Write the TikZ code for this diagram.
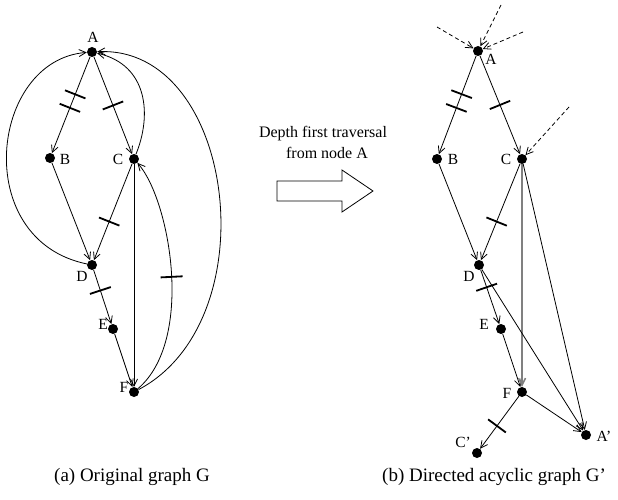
\documentclass[tikz,border=0pt]{standalone}
\usepackage{fontspec}
\setmainfont{Liberation Serif}
\usetikzlibrary{arrows.meta,decorations.markings}
\begin{document}
\begin{tikzpicture}[x=1pt,y=-1pt,
 dot/.style={circle,fill=black,inner sep=0pt,minimum size=10pt},
 lbl/.style={font=\fontsize{15.5}{18}\selectfont,inner sep=0pt},
 midtext/.style={font=\fontsize{16}{19}\selectfont,inner sep=0pt},
 captext/.style={font=\fontsize{19}{22}\selectfont,inner sep=0pt},
 edge/.style={line width=0.8pt,-{Straight Barb[length=7pt,width=7pt]}},
 dedge/.style={edge,dash pattern=on 4pt off 3pt},
 tk/.style={postaction={decorate,decoration={markings,mark=at position #1 with {\draw[line width=1.8pt,solid,-] (0,-11)--(0,11);}}}},
]
\fill[white] (0,0) rectangle (618,500);
\useasboundingbox (0,0) rectangle (618,500);

% ---------- left graph ----------
\node[dot] (A) at (92,52) {};
\node[dot] (B) at (50,158) {};
\node[dot] (C) at (134,159) {};
\node[dot] (D) at (92,265) {};
\node[dot] (E) at (113,329) {};
\node[dot] (F) at (134,392) {};
\node[lbl] (lA) at (93,37) {A};
\node[lbl] (lB) at (65,159) {B};
\node[lbl] (lC) at (118,159) {C};
\node[lbl] (lD) at (82,276) {D};
\node[lbl] (lE) at (103,324) {E};
\node[lbl] (lF) at (124,387) {F};

\draw[edge,tk=0.39,tk=0.53] (A) -- (B);
\draw[edge,tk=0.5] (A) -- (C);
\draw[edge] (B) -- (D);
\draw[edge,tk=0.6] (C) -- (D);
\draw[edge,tk=0.38] (D) -- (E);
\draw[edge] (E) -- (F);
\draw[edge] (C) -- (F);
\draw[edge] (D) .. controls (-30,240) and (-10,60) .. (A);
\draw[edge] (C) .. controls (152,115) and (148,65) .. (A);
\draw[edge] (F) .. controls (270,320) and (235,45) .. (A);
\draw[edge,tk=0.5] (F) .. controls (195,340) and (170,200) .. (C);

% ---------- middle ----------
\node[midtext] (t1) at (323,134) {Depth first traversal};
\node[midtext] (t2) at (327,153) {from node A};
\draw[line width=0.8pt] (277,181) -- (342,181) -- (342,170) -- (373,191) -- (342,212) -- (342,201) -- (277,201) -- cycle;

% ---------- right graph ----------
\node[dot] (A2) at (478,51) {};
\node[dot] (B2) at (437,159) {};
\node[dot] (C2) at (522,159) {};
\node[dot] (D2) at (479,265) {};
\node[dot] (E2) at (501,329) {};
\node[dot] (F2) at (522,392) {};
\node[dot] (Ap) at (586,435) {};
\node[dot] (Cp) at (477,453) {};
\node[lbl] (lA2) at (491,59) {A};
\node[lbl] (lB2) at (453,159) {B};
\node[lbl] (lC2) at (506,159) {C};
\node[lbl] (lD2) at (469,276) {D};
\node[lbl] (lE2) at (484,324) {E};
\node[lbl] (lF2) at (507,393) {F};
\node[lbl] (lAp) at (604,436) {A'};
\node[lbl] (lCp) at (463,442) {C'};

\coordinate (d1) at (437,27);
\coordinate (d2) at (501,5);
\coordinate (d3) at (523,32);
\coordinate (d4) at (569,107);
\draw[dedge] (d1) -- (A2);
\draw[dedge] (d2) -- (A2);
\draw[dedge] (d3) -- (A2);
\draw[dedge] (d4) -- (C2);

\draw[edge,tk=0.39,tk=0.53] (A2) -- (B2);
\draw[edge,tk=0.5] (A2) -- (C2);
\draw[edge] (B2) -- (D2);
\draw[edge,tk=0.6] (C2) -- (D2);
\draw[edge,tk=0.32] (D2) -- (E2);
\draw[edge] (E2) -- (F2);
\draw[edge,draw=gray,line width=1.5pt] (C2) -- (F2);
\draw[edge] (C2) -- (Ap);
\draw[edge] (D2) -- (Ap);
\draw[edge] (F2) -- (Ap);
\draw[edge,tk=0.565] (F2) -- (Cp);

% ---------- captions ----------
\node[captext] (capa) at (132,477) {(a) Original graph G};
\node[captext] (capb) at (494,477) {(b) Directed acyclic graph G'};
\end{tikzpicture}
\end{document}
